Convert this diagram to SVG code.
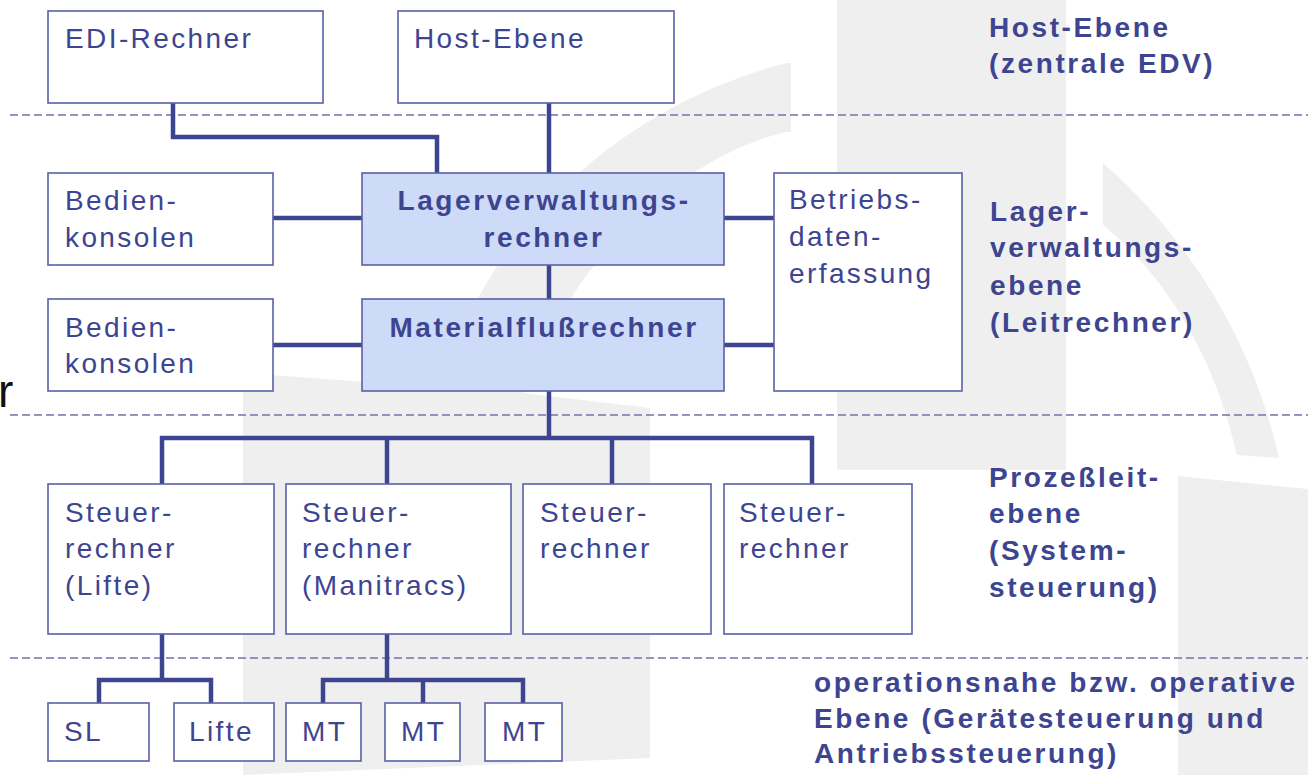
<svg xmlns="http://www.w3.org/2000/svg" width="1308" height="775" viewBox="0 0 1308 775">
<style>
.box{fill:#ffffff;stroke:#5a60a5;stroke-width:1.6}
.hi{fill:#cddaf8;stroke:#5a60a5;stroke-width:1.6}
.t{font-family:"Liberation Sans",Arial,sans-serif;font-size:28px;fill:#3d4591;letter-spacing:2.4px}
.b{font-family:"Liberation Sans",Arial,sans-serif;font-size:28px;font-weight:bold;fill:#3d4591;letter-spacing:2.6px}
.c{fill:none;stroke:#3d4591;stroke-width:4.5;stroke-linejoin:miter}
.d{fill:none;stroke:#6f74b3;stroke-width:1.5;stroke-dasharray:8 4}
.wm{fill:#efefef}
</style>
<rect width="1308" height="775" fill="#ffffff"/>
<g id="watermark">
<path class="wm" d="M243,373 L445,388 C470,260 600,110 787,63 L791,63 L791,132 L787,132 C700,150 580,240 523,393 L650,408 L650,758 L243,775 Z"/>
<rect class="wm" x="837" y="0" width="229" height="470"/>
<path class="wm" d="M1103,163 C1180,230 1250,330 1279,458 L1237,455 C1215,360 1170,280 1103,225 Z"/>
<path class="wm" d="M1178,476 L1308,489 L1308,775 L1178,775 Z"/>
</g>
<text x="-2" y="407" style="font-family:'Liberation Sans',Arial,sans-serif;font-size:46px;fill:#111">r</text>
<g id="separators">
<line class="d" x1="10" y1="115" x2="1308" y2="115"/>
<line class="d" x1="10" y1="415" x2="1308" y2="415"/>
<line class="d" x1="10" y1="658" x2="1308" y2="658"/>
</g>
<g id="connectors">
<polyline class="c" points="173,103 173,137 437,137 437,173"/>
<line class="c" x1="549" y1="103" x2="549" y2="173"/>
<line class="c" x1="273" y1="218" x2="362" y2="218"/>
<line class="c" x1="724" y1="218" x2="774" y2="218"/>
<line class="c" x1="549" y1="265" x2="549" y2="299"/>
<line class="c" x1="273" y1="345" x2="362" y2="345"/>
<line class="c" x1="724" y1="345" x2="774" y2="345"/>
<line class="c" x1="549" y1="391" x2="549" y2="438"/>
<polyline class="c" points="162,484 162,438 812,438 812,484"/>
<line class="c" x1="387" y1="438" x2="387" y2="484"/>
<line class="c" x1="612" y1="438" x2="612" y2="484"/>
<line class="c" x1="162" y1="634" x2="162" y2="680"/>
<polyline class="c" points="99,703 99,680 211,680 211,703"/>
<line class="c" x1="387" y1="634" x2="387" y2="680"/>
<polyline class="c" points="323,703 323,680 523,680 523,703"/>
<line class="c" x1="423" y1="680" x2="423" y2="703"/>
</g>
<g id="edi"><rect class="box" x="48" y="11" width="275" height="92"/><text class="t" x="65" y="48">EDI-Rechner</text></g>
<g id="host"><rect class="box" x="398" y="11" width="276" height="92"/><text class="t" x="414" y="48">Host-Ebene</text></g>
<g id="bedien1"><rect class="box" x="48" y="173" width="225" height="92"/><text class="t" x="65" y="210">Bedien-</text><text class="t" x="65" y="247">konsolen</text></g>
<g id="lager"><rect class="hi" x="362" y="173" width="362" height="92"/><text class="b" x="544" y="210" text-anchor="middle">Lagerverwaltungs-</text><text class="b" x="544" y="247" text-anchor="middle">rechner</text></g>
<g id="betrieb"><rect class="box" x="774" y="173" width="188" height="218"/><text class="t" x="789" y="209">Betriebs-</text><text class="t" x="789" y="246">daten-</text><text class="t" x="789" y="283">erfassung</text></g>
<g id="bedien2"><rect class="box" x="48" y="299" width="225" height="92"/><text class="t" x="65" y="337">Bedien-</text><text class="t" x="65" y="373">konsolen</text></g>
<g id="material"><rect class="hi" x="362" y="299" width="362" height="92"/><text class="b" x="544" y="337" text-anchor="middle">Materialflußrechner</text></g>
<g id="steuer1"><rect class="box" x="48" y="484" width="226" height="150"/><text class="t" x="65" y="522">Steuer-</text><text class="t" x="65" y="558">rechner</text><text class="t" x="65" y="595">(Lifte)</text></g>
<g id="steuer2"><rect class="box" x="286" y="484" width="225" height="150"/><text class="t" x="302" y="522">Steuer-</text><text class="t" x="302" y="558">rechner</text><text class="t" x="302" y="595">(Manitracs)</text></g>
<g id="steuer3"><rect class="box" x="523" y="484" width="188" height="150"/><text class="t" x="540" y="522">Steuer-</text><text class="t" x="540" y="558">rechner</text></g>
<g id="steuer4"><rect class="box" x="724" y="484" width="188" height="150"/><text class="t" x="739" y="522">Steuer-</text><text class="t" x="739" y="558">rechner</text></g>
<g id="sl"><rect class="box" x="48" y="703" width="101" height="58"/><text class="t" x="64" y="741">SL</text></g>
<g id="lifte"><rect class="box" x="174" y="703" width="100" height="58"/><text class="t" x="189" y="741">Lifte</text></g>
<g id="mt1"><rect class="box" x="286" y="703" width="75" height="58"/><text class="t" x="302" y="741">MT</text></g>
<g id="mt2"><rect class="box" x="385" y="703" width="75" height="58"/><text class="t" x="401" y="741">MT</text></g>
<g id="mt3"><rect class="box" x="485" y="703" width="77" height="58"/><text class="t" x="502" y="741">MT</text></g>
<g id="labels">
<text class="b" x="989" y="37">Host-Ebene</text>
<text class="b" x="989" y="73">(zentrale EDV)</text>
<text class="b" x="990" y="221">Lager-</text>
<text class="b" x="990" y="257">verwaltungs-</text>
<text class="b" x="990" y="295">ebene</text>
<text class="b" x="990" y="332">(Leitrechner)</text>
<text class="b" x="989" y="487">Prozeßleit-</text>
<text class="b" x="989" y="523">ebene</text>
<text class="b" x="989" y="560">(System-</text>
<text class="b" x="989" y="597">steuerung)</text>
<text class="b" x="814" y="692">operationsnahe bzw. operative</text>
<text class="b" x="814" y="728">Ebene (Gerätesteuerung und</text>
<text class="b" x="814" y="763">Antriebssteuerung)</text>
</g>
</svg>
